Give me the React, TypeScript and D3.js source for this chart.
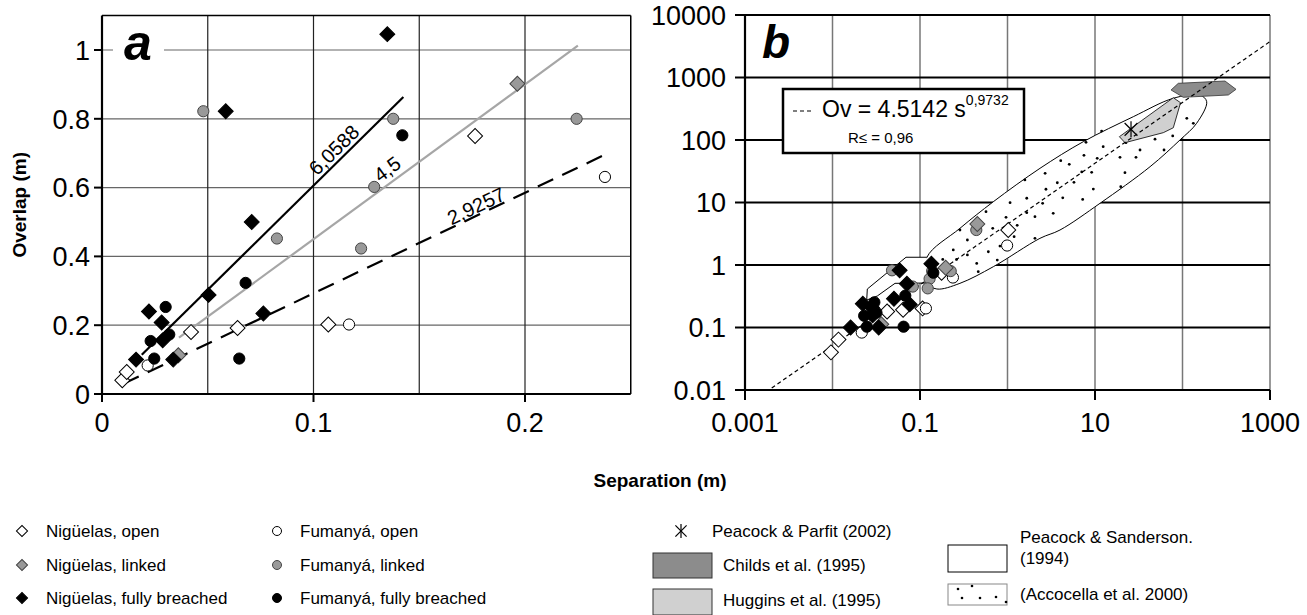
import * as d3 from 'd3';

type Pt = [number, number];

// ---- panel a / b field data (separation m, overlap m)
const niguelasOpen: Pt[] = [[0.0096, 0.04], [0.0117, 0.064], [0.0421, 0.18], [0.0641, 0.192], [0.107, 0.202], [0.1764, 0.75]];
const niguelasLinked: Pt[] = [[0.0361, 0.1125], [0.1964, 0.902]];
const niguelasBreached: Pt[] = [[0.0585, 0.822], [0.0708, 0.5], [0.0504, 0.288], [0.0763, 0.234], [0.0222, 0.24], [0.0282, 0.208], [0.0287, 0.156], [0.0161, 0.1], [0.0337, 0.1], [0.1349, 1.046]];
const fumanyaOpen: Pt[] = [[0.0216, 0.083], [0.1168, 0.202], [0.2378, 0.631]];
const fumanyaLinked: Pt[] = [[0.0479, 0.822], [0.0827, 0.452], [0.1377, 0.8], [0.1287, 0.602], [0.1225, 0.423], [0.2244, 0.8]];
const fumanyaBreached: Pt[] = [[0.0301, 0.253], [0.023, 0.154], [0.0318, 0.173], [0.0247, 0.103], [0.0679, 0.323], [0.0649, 0.103], [0.142, 0.752]];

// extra points only visible in panel b (separation beyond panel a range)
const niguelasOpenB: Pt[] = [[1.02, 3.63]];
const niguelasLinkedB: Pt[] = [[0.452, 4.53]];
const fumanyaOpenB: Pt[] = [[0.99, 2.05]];
const fumanyaLinkedB: Pt[] = [[0.44, 3.63]];

// panel a trend lines  Ov = k * s
const trendSlopes = [6.0588, 4.5, 2.9257];
const trendFrom = [0.0188, 0.0364, 0.0101];
const trendTo = [0.1425, 0.225, 0.2378];
const trendLabels = ['6,0588', '4,5', '2,9257'];
const trendLabelAt = [0.1133, 0.1385, 0.1787];
const trendLabelLift = [4, 6, 2];

// panel b power law  Ov = 4.5142 s^0.9732
const powerCoef = 4.5142;
const powerExp = 0.9732;
const powerRange: Pt = [0.00202, 1000];

// published data fields (panel b)
const peacockParfit: Pt[] = [[25.8, 148]];
const childsField: Pt[] = [[74, 631], [89.5, 807], [306, 879], [409, 647], [334, 525], [102, 482]];
const hugginsField: Pt[] = [[19.0, 113], [78.5, 475], [95, 395], [78.5, 157], [60.4, 131], [22, 90.6]];
const sandersonEllipse: Pt[] = [
  [0.12, 1.33], [0.286, 3.86], [0.689, 10.3], [2.35, 35.2], [7.35, 94], [27.4, 236], [78.5, 465], [158, 525],
  [189, 410], [145, 185], [93.5, 100], [42.6, 37.4], [11.4, 9.7], [3.98, 3.63], [2.35, 2.67], [0.689, 0.94],
  [0.286, 0.509], [0.156, 0.413], [0.12, 0.515],
];
const sandersonFunnel: Pt[] = [[0.12, 0.515], [0.0518, 0.509], [0.0325, 0.319], [0.0246, 0.275], [0.025, 0.413], [0.0692, 1.33], [0.12, 1.33]];
const accocellaDots: Pt[] = [
  [11.9, 139], [7.89, 91.8], [12.4, 78.2], [4.06, 46.7], [7.48, 56.9], [10.6, 50.9], [5.08, 40.8], [19.3, 52.8],
  [29.4, 52.8], [32.7, 69.2], [48.5, 103], [77.3, 116], [61.5, 69.2], [112, 222], [133, 185], [22.6, 90.6],
  [2.69, 29.3], [7.05, 30.8], [9.16, 30.4], [22.0, 30.0], [5.75, 21.0], [3.71, 20.7], [2.75, 16.3], [9.57, 16.4],
  [1.66, 11.7], [4.28, 11.9], [7.23, 11.2], [19.7, 17.9], [1.07, 9.93], [2.52, 9.71], [1.66, 6.87], [3.33, 6.71],
  [2.06, 5.93], [0.962, 5.79], [1.29, 4.32], [1.58, 23], [0.568, 7.13], [0.286, 3.63], [0.678, 3.86], [1.19, 2.84],
  [2.06, 2.67], [0.348, 2.51], [0.24, 1.74], [0.604, 1.63], [0.82, 2.01], [0.348, 1.45], [0.262, 1.23], [0.445, 1.06],
  [0.764, 1.2], [0.182, 1.23], [0.463, 0.782],
];

// ticks
const ticksAY = [0, 0.2, 0.4, 0.6, 0.8, 1];
const ticksAX = [0, 0.1, 0.2];
const gridAX = [0.05, 0.1, 0.15, 0.2];
const decadesY = [0.01, 0.1, 1, 10, 100, 1000, 10000];
const decadesX = [0.001, 0.01, 0.1, 1, 10, 100, 1000];
const labeledX = [0.001, 0.1, 10, 1000];

const FONT = "'Liberation Sans', Arial, Helvetica, sans-serif";
const W = 1307, H = 615;

const STYLES: Record<string, { shape: 'diamond' | 'circle'; fill: string; stroke: string }> = {
  nOpen: { shape: 'diamond', fill: '#fff', stroke: '#000' },
  nLinked: { shape: 'diamond', fill: '#999', stroke: '#444' },
  nBreached: { shape: 'diamond', fill: '#000', stroke: '#000' },
  fOpen: { shape: 'circle', fill: '#fff', stroke: '#000' },
  fLinked: { shape: 'circle', fill: '#999', stroke: '#444' },
  fBreached: { shape: 'circle', fill: '#000', stroke: '#000' },
};

const diamondPath = d3.symbol().type(d3.symbolSquare).size(112)()!;
const smallDiamond = d3.symbol().type(d3.symbolSquare).size(62)()!;

const Marker = ({ kind, x, y, small }: { kind: string; x: number; y: number; small?: boolean }) => {
  const st = STYLES[kind];
  if (st.shape === 'diamond')
    return <path d={small ? smallDiamond : diamondPath} transform={`translate(${x},${y}) rotate(45)`} fill={st.fill} stroke={st.stroke} strokeWidth={1} />;
  return <circle cx={x} cy={y} r={small ? 4.5 : 5.6} fill={st.fill} stroke={st.stroke} strokeWidth={1} />;
};

const Star = ({ x, y, r }: { x: number; y: number; r: number }) => (
  <g stroke="#000" strokeWidth={1.2}>
    <line x1={x} y1={y - r} x2={x} y2={y + r} />
    <line x1={x - r * 0.8} y1={y - r * 0.8} x2={x + r * 0.8} y2={y + r * 0.8} />
    <line x1={x - r * 0.8} y1={y + r * 0.8} x2={x + r * 0.8} y2={y - r * 0.8} />
  </g>
);

export default function App() {
  // ---------- panel a
  const xA = d3.scaleLinear().domain([0, 0.25]).range([102, 630.75]);
  const yA = d3.scaleLinear().domain([0, 1.1]).range([394, 15.6]);
  // ---------- panel b
  const xB = d3.scaleLog().domain([0.001, 1000]).range([745, 1270]);
  const yB = d3.scaleLog().domain([0.01, 10000]).range([390, 15]);

  const seriesA: [string, Pt[]][] = [
    ['nOpen', niguelasOpen], ['fOpen', fumanyaOpen], ['fLinked', fumanyaLinked],
    ['nLinked', niguelasLinked], ['fBreached', fumanyaBreached], ['nBreached', niguelasBreached],
  ];
  const seriesB: [string, Pt[]][] = [
    ['nOpen', niguelasOpen.concat(niguelasOpenB)], ['fOpen', fumanyaOpen.concat(fumanyaOpenB)],
    ['fLinked', fumanyaLinked.concat(fumanyaLinkedB)], ['nLinked', niguelasLinked.concat(niguelasLinkedB)],
    ['fBreached', fumanyaBreached], ['nBreached', niguelasBreached],
  ];

  const lineB = d3.line<Pt>().x(d => xB(d[0])).y(d => yB(d[1]));
  const ellipsePath = lineB.curve(d3.curveCatmullRomClosed.alpha(0.5))(sandersonEllipse)!;
  const linearB = d3.line<Pt>().x(d => xB(d[0])).y(d => yB(d[1]));
  const funnelPath = linearB(sandersonFunnel)!;

  const tickFont = 27;

  return (
    <svg width={W} height={H} style={{ position: 'absolute', left: 0, top: 0, background: '#fff' }} fontFamily={FONT}>
      <rect width={W} height={H} fill="#fff" />

      {/* ===== panel a grid ===== */}
      {ticksAY.filter(v => v > 0).map(v => (
        <line key={`ga${v}`} x1={xA(0)} x2={xA(0.25)} y1={yA(v)} y2={yA(v)} stroke="#666" strokeWidth={1.2} />
      ))}
      {gridAX.map(v => (
        <line key={`gx${v}`} x1={xA(v)} x2={xA(v)} y1={yA(0)} y2={yA(1.1)} stroke="#222" strokeWidth={1.2} />
      ))}
      <line x1={xA(0.25)} x2={xA(0.25)} y1={yA(0)} y2={yA(1.1)} stroke="#000" strokeWidth={1.5} />
      <line x1={xA(0)} x2={xA(0.25)} y1={yA(1.1)} y2={yA(1.1)} stroke="#000" strokeWidth={1.5} />

      {/* trend lines */}
      {trendSlopes.map((k, i) => (
        <line key={`t${i}`} x1={xA(trendFrom[i])} y1={yA(k * trendFrom[i])} x2={xA(trendTo[i])} y2={yA(k * trendTo[i])}
          stroke={i === 1 ? '#a6a6a6' : '#000'} strokeWidth={2.2} strokeDasharray={i === 2 ? '17,10' : undefined} />
      ))}
      {trendSlopes.map((k, i) => {
        const ang = Math.atan2(yA(k) - yA(0), xA(1) - xA(0)) * 180 / Math.PI;
        const s = trendLabelAt[i];
        return (
          <text key={`tl${i}`} transform={`translate(${xA(s)},${yA(k * s)}) rotate(${ang})`} y={-trendLabelLift[i]}
            textAnchor="middle" fontSize={20} fill="#000">{trendLabels[i]}</text>
        );
      })}

      {/* points a */}
      {seriesA.map(([kind, pts]) => pts.map((d, j) => (
        <Marker key={`a${kind}${j}`} kind={kind} x={xA(d[0])} y={yA(d[1])} />
      )))}

      {/* axes a */}
      <line x1={xA(0)} x2={xA(0)} y1={yA(0)} y2={yA(1.1)} stroke="#000" strokeWidth={2.2} />
      <line x1={xA(0)} x2={xA(0.25)} y1={yA(0)} y2={yA(0)} stroke="#000" strokeWidth={2.2} />
      {ticksAY.map(v => (
        <g key={`ya${v}`}>
          <line x1={xA(0) - 8} x2={xA(0)} y1={yA(v)} y2={yA(v)} stroke="#000" strokeWidth={2} />
          <text x={90} y={yA(v)} dy="0.36em" textAnchor="end" fontSize={tickFont}>{v}</text>
        </g>
      ))}
      {ticksAX.map(v => (
        <g key={`xa${v}`}>
          <line x1={xA(v)} x2={xA(v)} y1={yA(0)} y2={yA(0) + 8} stroke="#000" strokeWidth={2} />
          <text x={xA(v)} y={432} textAnchor="middle" fontSize={tickFont}>{v}</text>
        </g>
      ))}
      <rect x={113} y={27} width={51} height={38} fill="#fff" />
      <text x={124} y={60} fontSize={50} fontWeight="bold" fontStyle="italic">a</text>
      <text transform={`translate(26,${yA(0.55)}) rotate(-90)`} textAnchor="middle" fontSize={19} fontWeight="bold">Overlap (m)</text>

      {/* ===== panel b grid ===== */}
      {decadesX.slice(1, -1).map(v => (
        <line key={`gbx${v}`} x1={xB(v)} x2={xB(v)} y1={yB(0.01)} y2={yB(10000)} stroke="#777" strokeWidth={1.5} />
      ))}
      <line x1={xB(1000)} x2={xB(1000)} y1={yB(0.01)} y2={yB(10000)} stroke="#777" strokeWidth={1.5} />
      {decadesY.slice(1).map(v => (
        <line key={`gby${v}`} x1={xB(0.001)} x2={xB(1000)} y1={yB(v)} y2={yB(v)} stroke="#000" strokeWidth={2} />
      ))}

      {/* Peacock & Sanderson field + Accocella dots */}
      <path d={ellipsePath} fill="#fff" stroke="#000" strokeWidth={1} />
      <path d={funnelPath + 'Z'} fill="#fff" stroke="none" />
      <path d={funnelPath} fill="none" stroke="#000" strokeWidth={1} />
      {accocellaDots.map((d, i) => (
        <circle key={`dot${i}`} cx={xB(d[0])} cy={yB(d[1])} r={1.4} fill="#000" />
      ))}
      <path d={linearB(hugginsField) + 'Z'} fill="#d0d0d0" stroke="#000" strokeWidth={0.8} />
      <path d={linearB(childsField) + 'Z'} fill="#8c8c8c" stroke="#333" strokeWidth={0.8} />

      {/* equation box */}
      <rect x={783} y={89} width={241} height={64} fill="#fff" stroke="#000" strokeWidth={2.5} />

      {/* power law */}
      <path d={linearB(d3.range(0, 41).map(i => {
        const s = powerRange[0] * Math.pow(powerRange[1] / powerRange[0], i / 40);
        return [s, powerCoef * Math.pow(s, powerExp)] as Pt;
      }))!} fill="none" stroke="#000" strokeWidth={1.2} strokeDasharray="4,3" />

      {peacockParfit.map((d, i) => <Star key={`st${i}`} x={xB(d[0])} y={yB(d[1])} r={8} />)}

      {seriesB.map(([kind, pts]) => pts.map((d, j) => (
        <Marker key={`b${kind}${j}`} kind={kind} x={xB(d[0])} y={yB(d[1])} />
      )))}

      <line x1={793} x2={812} y1={111} y2={111} stroke="#000" strokeWidth={1.2} strokeDasharray="4,3" />
      <text x={822} y={117} fontSize={23}>Ov = 4.5142 s<tspan dy={-12} fontSize={14}>0,9732</tspan></text>
      <text x={848} y={143} fontSize={15}>R≤ = 0,96</text>

      {/* axes b */}
      <line x1={xB(0.001)} x2={xB(0.001)} y1={yB(0.01)} y2={yB(10000)} stroke="#000" strokeWidth={2.2} />
      <line x1={xB(0.001)} x2={xB(1000)} y1={yB(0.01)} y2={yB(0.01)} stroke="#000" strokeWidth={2.2} />
      {decadesY.map(v => (
        <g key={`yb${v}`}>
          <line x1={xB(0.001) - 10} x2={xB(0.001)} y1={yB(v)} y2={yB(v)} stroke="#000" strokeWidth={2} />
          <text x={726} y={yB(v)} dy="0.36em" textAnchor="end" fontSize={tickFont}>{String(v)}</text>
        </g>
      ))}
      {labeledX.map(v => (
        <g key={`xb${v}`}>
          <line x1={xB(v)} x2={xB(v)} y1={yB(0.01)} y2={yB(0.01) + 10} stroke="#000" strokeWidth={2} />
          <text x={xB(v)} y={432} textAnchor="middle" fontSize={tickFont}>{String(v)}</text>
        </g>
      ))}
      <text x={762} y={58} fontSize={46} fontWeight="bold" fontStyle="italic">b</text>

      <text x={660} y={487} textAnchor="middle" fontSize={19} fontWeight="bold">Separation (m)</text>

      {/* ===== legend ===== */}
      <g fontSize={17}>
        <Marker kind="nOpen" x={22} y={531} small />
        <text x={46} y={537}>Nigüelas, open</text>
        <Marker kind="nLinked" x={22} y={565} small />
        <text x={46} y={571}>Nigüelas, linked</text>
        <Marker kind="nBreached" x={22} y={598} small />
        <text x={46} y={604}>Nigüelas, fully breached</text>

        <Marker kind="fOpen" x={277} y={531} small />
        <text x={300} y={537}>Fumanyá, open</text>
        <Marker kind="fLinked" x={277} y={565} small />
        <text x={300} y={571}>Fumanyá, linked</text>
        <Marker kind="fBreached" x={277} y={598} small />
        <text x={300} y={604}>Fumanyá, fully breached</text>

        <Star x={681} y={531} r={7} />
        <text x={712} y={537}>Peacock &amp; Parfit (2002)</text>
        <rect x={653} y={553} width={59} height={25} fill="#8c8c8c" stroke="#333" strokeWidth={1} />
        <text x={723} y={571}>Childs et al. (1995)</text>
        <rect x={653} y={589} width={59} height={26} fill="#d0d0d0" stroke="#333" strokeWidth={1} />
        <text x={723} y={606}>Huggins et al. (1995)</text>

        <rect x={948} y={545} width={59} height={27} fill="#fff" stroke="#000" strokeWidth={1} />
        <text x={1020} y={543}>Peacock &amp; Sanderson.</text>
        <text x={1020} y={564}>(1994)</text>
        <rect x={948} y={584} width={59} height={21} fill="#fff" stroke="#888" strokeWidth={1} />
        {[[958, 589], [972, 586], [962, 598], [980, 598], [996, 597], [1006, 602]].map(([x, y], i) => (
          <circle key={`ld${i}`} cx={x} cy={y} r={1.3} fill="#000" />
        ))}
        <text x={1020} y={600}>(Accocella et al. 2000)</text>
      </g>
    </svg>
  );
}
